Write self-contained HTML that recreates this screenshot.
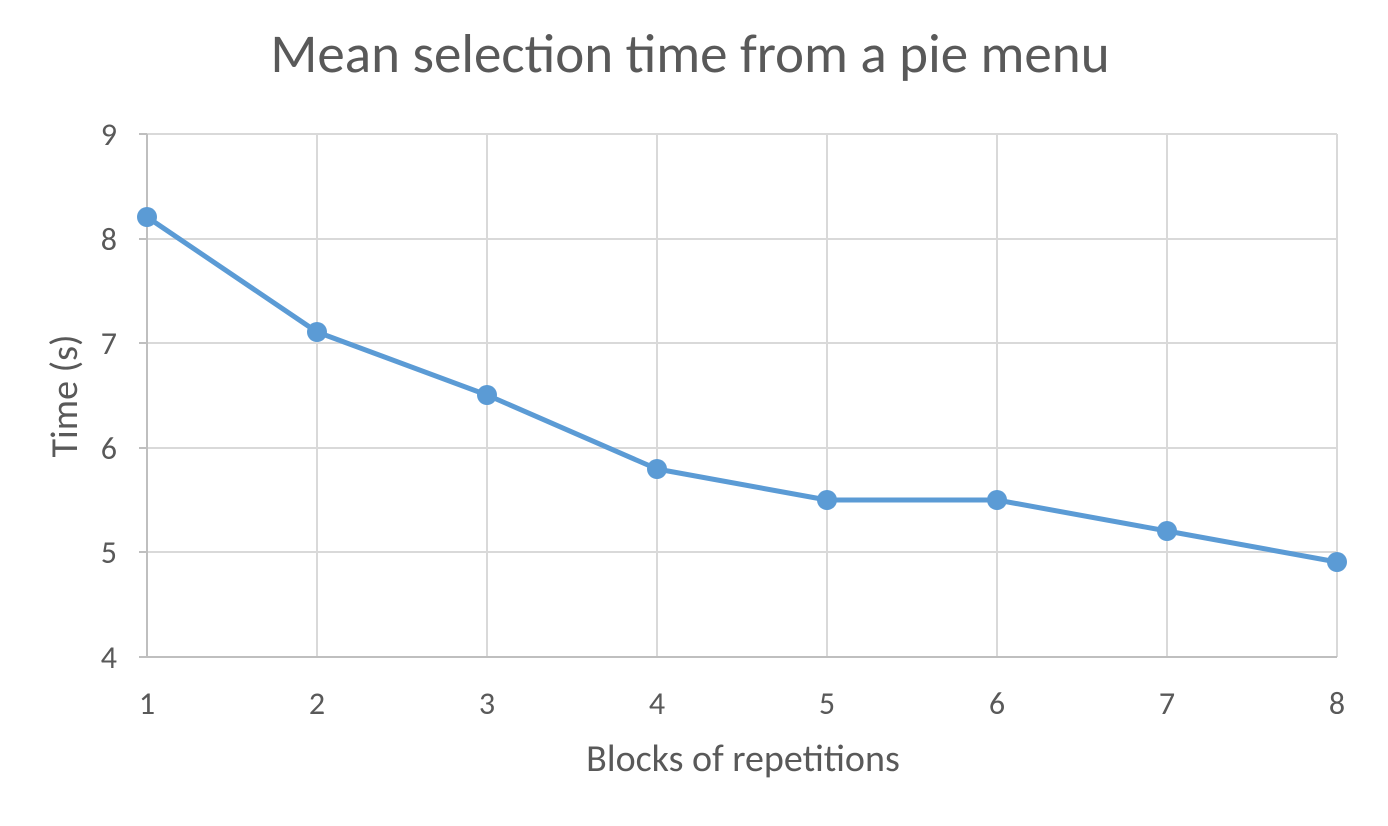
<!DOCTYPE html>
<html><head><meta charset="utf-8"><style>
html,body{margin:0;padding:0;background:#fff;}
svg{display:block;}
</style></head><body>
<svg width="1388" height="826" xmlns="http://www.w3.org/2000/svg" font-family="Calibri, Carlito, 'Liberation Sans', sans-serif">
<rect width="1388" height="826" fill="#fff"/>
<text x="690" y="72" text-anchor="middle" font-size="55" fill="#595959">Mean selection time from a pie menu</text>
<g stroke="#d9d9d9" stroke-width="2">
<line x1="147" y1="134" x2="1337" y2="134"/>
<line x1="147" y1="239" x2="1337" y2="239"/>
<line x1="147" y1="343" x2="1337" y2="343"/>
<line x1="147" y1="448" x2="1337" y2="448"/>
<line x1="147" y1="552" x2="1337" y2="552"/>
<line x1="317" y1="134" x2="317" y2="657"/>
<line x1="487" y1="134" x2="487" y2="657"/>
<line x1="657" y1="134" x2="657" y2="657"/>
<line x1="827" y1="134" x2="827" y2="657"/>
<line x1="997" y1="134" x2="997" y2="657"/>
<line x1="1167" y1="134" x2="1167" y2="657"/>
<line x1="1337" y1="134" x2="1337" y2="657"/>
</g>
<g stroke="#bfbfbf" stroke-width="2">
<line x1="147" y1="134" x2="147" y2="657"/>
<line x1="147" y1="657" x2="1337" y2="657"/>
<line x1="139" y1="134" x2="147" y2="134"/>
<line x1="139" y1="239" x2="147" y2="239"/>
<line x1="139" y1="343" x2="147" y2="343"/>
<line x1="139" y1="448" x2="147" y2="448"/>
<line x1="139" y1="552" x2="147" y2="552"/>
<line x1="139" y1="657" x2="147" y2="657"/>
</g>
<g font-size="32" fill="#595959" text-anchor="end">
<text x="117" y="145">9</text><text x="117" y="250">8</text><text x="117" y="354">7</text>
<text x="117" y="459">6</text><text x="117" y="563">5</text><text x="117" y="668">4</text>
</g>
<g font-size="32" fill="#595959" text-anchor="middle">
<text x="147" y="714">1</text><text x="317" y="714">2</text><text x="487" y="714">3</text><text x="657" y="714">4</text>
<text x="827" y="714">5</text><text x="997" y="714">6</text><text x="1167" y="714">7</text><text x="1337" y="714">8</text>
</g>
<text x="743" y="771" text-anchor="middle" font-size="38" fill="#595959">Blocks of repetitions</text>
<text transform="translate(77,396) rotate(-90)" text-anchor="middle" font-size="38" fill="#595959">Time (s)</text>
<polyline fill="none" stroke="#5b9bd5" stroke-width="5" stroke-linejoin="round" points="147,217 317,332 487,395 657,469 827,500 997,500 1167,531 1337,562"/>
<g fill="#5b9bd5">
<circle cx="147" cy="217" r="10"/><circle cx="317" cy="332" r="10"/><circle cx="487" cy="395" r="10"/><circle cx="657" cy="469" r="10"/>
<circle cx="827" cy="500" r="10"/><circle cx="997" cy="500" r="10"/><circle cx="1167" cy="531" r="10"/><circle cx="1337" cy="562" r="10"/>
</g>
</svg>
</body></html>
